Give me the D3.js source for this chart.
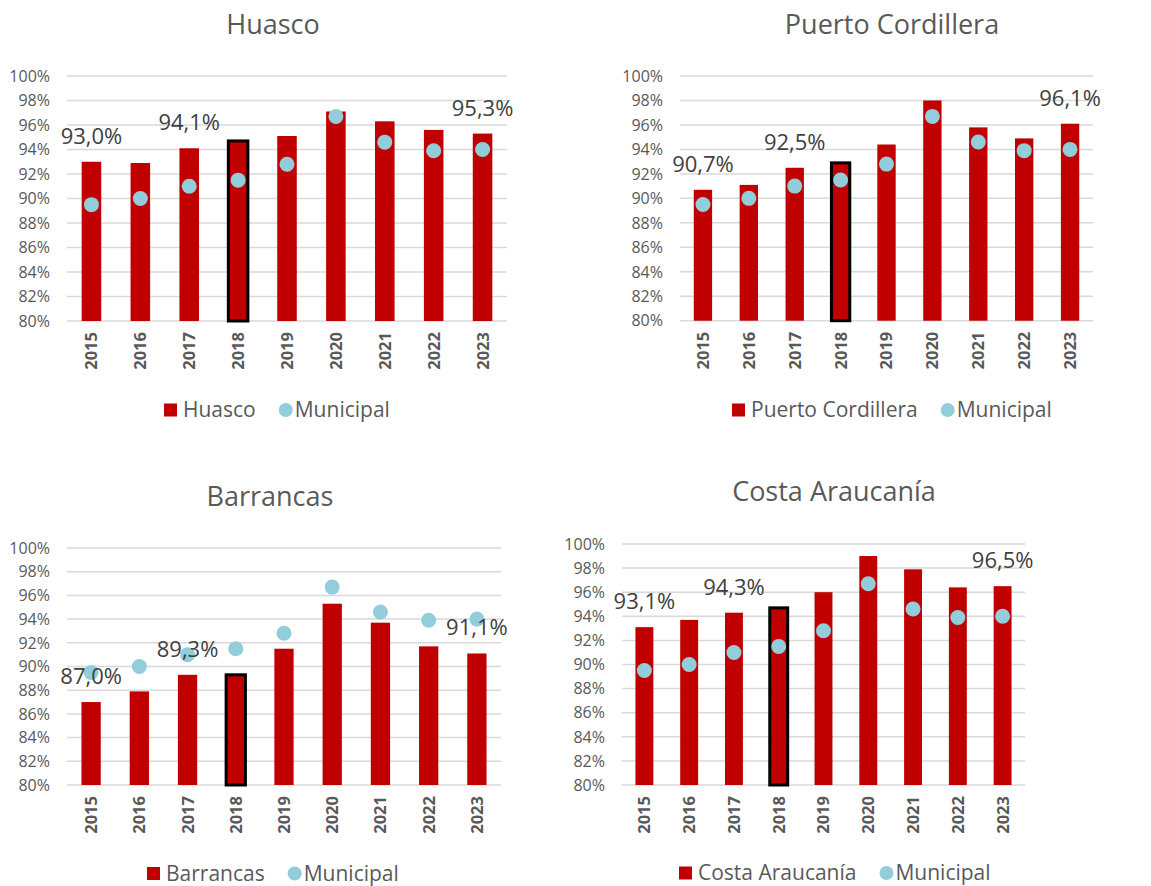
<!DOCTYPE html>
<meta charset="utf-8">
<style>
body { margin: 0; background: #fff; }
text { font-family: "Open Sans", "Noto Sans", sans-serif; }
.grid line { stroke: #d9d9d9; stroke-width: 1.5; }
.title { fill: #595959; font-size: 27px; }
.tick-label { fill: #595959; font-size: 16px; }
.year-label { fill: #595959; font-size: 16.5px; font-weight: bold; }
.value-label { fill: #404040; font-size: 22px; }
.legend text { fill: #595959; font-size: 21px; }
</style>
<svg width="1151" height="886"></svg>
<script src="https://d3js.org/d3.v7.min.js"></script>
<script>

var years = [2015, 2016, 2017, 2018, 2019, 2020, 2021, 2022, 2023];
var municipal = [89.5, 90.0, 91.0, 91.5, 92.8, 96.7, 94.6, 93.9, 94.0];

var huasco = [93.0, 92.9, 94.1, 94.7, 95.1, 97.1, 96.3, 95.6, 95.3];
var puertoCordillera = [90.7, 91.1, 92.5, 92.9, 94.4, 98.0, 95.8, 94.9, 96.1];
var barrancas = [87.0, 87.9, 89.3, 89.3, 91.5, 95.3, 93.7, 91.7, 91.1];
var costaAraucania = [93.1, 93.7, 94.3, 94.7, 96.0, 99.0, 97.9, 96.4, 96.5];

var yTicks = [80, 82, 84, 86, 88, 90, 92, 94, 96, 98, 100];
var labeledYears = [2015, 2017, 2023];
var highlightYear = 2018;

var barColor = "#c00000",
    dotColor = "#92cddc";

// layout of the four panels
var panels = [
  { name: "Huasco", values: huasco, left: 67, right: 507, top: 76, bottom: 321,
    titleX: 273, titleY: 34, legendX: 164, legendY: 410 },
  { name: "Puerto Cordillera", values: puertoCordillera, left: 680, right: 1093, top: 76, bottom: 320.7,
    titleX: 892, titleY: 34, legendX: 732, legendY: 410 },
  { name: "Barrancas", values: barrancas, left: 67, right: 501, top: 548, bottom: 785,
    titleX: 270, titleY: 506, legendX: 147, legendY: 873.5 },
  { name: "Costa Araucanía", values: costaAraucania, left: 622, right: 1025, top: 544, bottom: 785,
    titleX: 834, titleY: 501, legendX: 679, legendY: 873 }
];

var svg = d3.select("svg");
var fmt = function(v) { return v.toFixed(1).replace(".", ",") + "%"; };

panels.forEach(function(p) {
  var g = svg.append("g");

  var x = d3.scaleBand()
      .domain(years)
      .range([p.left, p.right])
      .paddingInner(0.6)
      .paddingOuter(0.3);

  var y = d3.scaleLinear()
      .domain([80, 100])
      .range([p.bottom, p.top]);

  var rows = years.map(function(yr, i) {
    return { year: yr, value: p.values[i], municipal: municipal[i] };
  });

  // gridlines
  g.append("g")
      .attr("class", "grid")
    .selectAll("line")
    .data(yTicks)
    .enter().append("line")
      .attr("x1", p.left)
      .attr("x2", p.right)
      .attr("y1", function(d) { return y(d); })
      .attr("y2", function(d) { return y(d); });

  // y tick labels
  g.selectAll(".tick-label")
    .data(yTicks)
    .enter().append("text")
      .attr("class", "tick-label")
      .attr("x", p.left - 17)
      .attr("y", function(d) { return y(d); })
      .attr("dy", "0.36em")
      .attr("text-anchor", "end")
      .text(function(d) { return d + "%"; });

  // bars
  g.selectAll(".bar")
    .data(rows)
    .enter().append("rect")
      .attr("class", "bar")
      .attr("x", function(d) { return x(d.year); })
      .attr("width", x.bandwidth())
      .attr("y", function(d) { return y(d.value); })
      .attr("height", function(d) { return y(80) - y(d.value); })
      .attr("fill", barColor)
      .attr("stroke", function(d) { return d.year === highlightYear ? "#000" : "none"; })
      .attr("stroke-width", 3);

  // municipal dots
  g.selectAll(".dot")
    .data(rows)
    .enter().append("circle")
      .attr("class", "dot")
      .attr("cx", function(d) { return x(d.year) + x.bandwidth() / 2; })
      .attr("cy", function(d) { return y(d.municipal); })
      .attr("r", 7.5)
      .attr("fill", dotColor);

  // value labels
  g.selectAll(".value-label")
    .data(rows.filter(function(d) { return labeledYears.indexOf(d.year) >= 0; }))
    .enter().append("text")
      .attr("class", "value-label")
      .attr("x", function(d) { return x(d.year) + x.bandwidth() / 2; })
      .attr("y", function(d) { return y(d.value) - 18; })
      .attr("text-anchor", "middle")
      .text(function(d) { return fmt(d.value); });

  // year labels (rotated)
  g.selectAll(".year-label")
    .data(years)
    .enter().append("text")
      .attr("class", "year-label")
      .attr("transform", function(d) {
        return "translate(" + (x(d) + x.bandwidth() / 2) + "," + (p.bottom + 11) + ") rotate(-90)";
      })
      .attr("dy", "0.36em")
      .attr("text-anchor", "end")
      .text(function(d) { return d; });

  // title
  g.append("text")
      .attr("class", "title")
      .attr("x", p.titleX)
      .attr("y", p.titleY)
      .attr("text-anchor", "middle")
      .text(p.name);

  // legend
  var lg = g.append("g").attr("class", "legend");
  var cx = p.legendX;
  lg.append("rect")
      .attr("x", cx)
      .attr("y", p.legendY - 6.5)
      .attr("width", 13)
      .attr("height", 13)
      .attr("fill", barColor);
  var t1 = lg.append("text")
      .attr("x", cx + 19)
      .attr("y", p.legendY)
      .attr("dy", "0.35em")
      .text(p.name);
  var w1 = t1.node().getComputedTextLength();
  var circX = cx + 19 + w1 + 30;
  lg.append("circle")
      .attr("cx", circX)
      .attr("cy", p.legendY)
      .attr("r", 7)
      .attr("fill", dotColor);
  lg.append("text")
      .attr("x", circX + 9)
      .attr("y", p.legendY)
      .attr("dy", "0.35em")
      .text("Municipal");
});

</script>
